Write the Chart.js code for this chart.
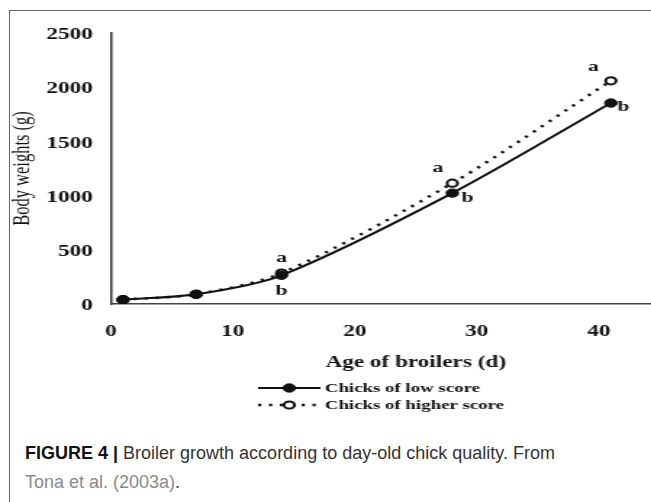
<!DOCTYPE html>
<html>
<head>
<meta charset="utf-8">
<script src="https://cdn.jsdelivr.net/npm/chart.js@4"></script>
<style>
  html, body { margin: 0; padding: 0; width: 651px; height: 502px; overflow: hidden; background: #fff; }
  #wrap { position: absolute; left: 0; top: 0; width: 651px; height: 502px; overflow: hidden; }
  #frame { position: absolute; left: 9px; top: 10px; width: 700px; height: 600px; border-left: 1px solid #666; border-top: 1px solid #666; }
  #c { position: absolute; left: 0; top: 0; transform: scaleX(1.45); transform-origin: 0 0; }
  #caption { position: absolute; left: 25px; top: 439px; font-family: 'Liberation Sans', Arial, sans-serif; font-size: 18px; line-height: 29px; color: #333; white-space: nowrap; }
  #caption b { color: #111; }
  #caption .ref { color: #8a8a8a; }
</style>
</head>
<body>
<div id="wrap">
  <div id="frame"></div>
  <canvas id="c" width="503" height="420"></canvas>
  <div id="caption"><b>FIGURE 4 |</b> Broiler growth according to day-old chick quality. From<br><span class="ref">Tona et al. (2003a)</span>.</div>
</div>
<script>
// ---- data ----
const days = [1, 7, 14, 28, 41];
const lowScore = [40, 90, 265, 1023, 1854];
const highScore = [40, 90, 285, 1115, 2059];
const lowLetters = ['', '', 'b', 'b', 'b'];
const highLetters = ['', '', 'a', 'a', 'a'];
const seriesNames = ['Chicks of low score', 'Chicks of higher score'];
const xTicks = [0, 10, 20, 30, 40];
const yTicks = [0, 500, 1000, 1500, 2000, 2500];
const xTitle = 'Age of broilers (d)';
const yTitle = 'Body weights (g)';

const serif = "'Liberation Serif', 'Times New Roman', serif";

const letterPlugin = {
  id: 'letters',
  afterDatasetsDraw(chart, args, opts) {
    const ctx = chart.ctx;
    ctx.save();
    ctx.font = 'bold 15px ' + serif;
    ctx.fillStyle = '#111';
    ctx.textAlign = 'center';
    ctx.textBaseline = 'middle';
    const sets = [
      { meta: chart.getDatasetMeta(0), letters: lowLetters, off: opts.lowOffsets },
      { meta: chart.getDatasetMeta(1), letters: highLetters, off: opts.highOffsets }
    ];
    sets.forEach(s => {
      s.meta.data.forEach((pt, i) => {
        const t = s.letters[i];
        if (!t) return;
        ctx.fillText(t, pt.x + s.off[i][0], pt.y + s.off[i][1]);
      });
    });
    ctx.restore();
  }
};

const legendPlugin = {
  id: 'customLegend',
  afterDraw(chart, args, opts) {
    const ctx = chart.ctx;
    ctx.save();
    chart.data.datasets.forEach((ds, i) => {
      const y = opts.rows[i];
      ctx.strokeStyle = ds.borderColor;
      ctx.lineWidth = ds.borderWidth;
      ctx.setLineDash(ds.borderDash || []);
      ctx.beginPath();
      ctx.moveTo(opts.x0, y);
      ctx.lineTo(opts.x1, y);
      ctx.stroke();
      ctx.setLineDash([]);
      ctx.beginPath();
      ctx.arc(opts.xm, y, ds.pointRadius, 0, Math.PI * 2);
      ctx.fillStyle = ds.pointBackgroundColor;
      ctx.fill();
      ctx.lineWidth = ds.pointBorderWidth;
      ctx.strokeStyle = ds.pointBorderColor;
      ctx.stroke();
      ctx.font = 'bold 13px ' + serif;
      ctx.fillStyle = '#111';
      ctx.textAlign = 'left';
      ctx.textBaseline = 'middle';
      ctx.fillText(ds.label, opts.xt, y + 1);
    });
    ctx.restore();
  }
};

new Chart(document.getElementById('c'), {
  type: 'line',
  data: {
    datasets: [
      {
        label: seriesNames[0],
        data: days.map((d, i) => ({ x: d, y: lowScore[i] })),
        borderColor: '#111',
        borderWidth: 2,
        pointRadius: 4.2,
        pointBackgroundColor: '#111',
        pointBorderColor: '#111',
        pointBorderWidth: 1,
        tension: 0.3,
        fill: false
      },
      {
        label: seriesNames[1],
        data: days.map((d, i) => ({ x: d, y: highScore[i] })),
        borderColor: '#111',
        borderWidth: 2.5,
        borderDash: [2.2, 5.3],
        pointRadius: 3.6,
        pointBackgroundColor: '#fff',
        pointBorderColor: '#111',
        pointBorderWidth: 2,
        tension: 0.3,
        fill: false
      }
    ]
  },
  options: {
    responsive: false,
    maintainAspectRatio: false,
    animation: false,
    devicePixelRatio: 1,
    layout: { padding: { top: 33, left: 0, right: 0, bottom: 0 } },
    plugins: {
      legend: { display: false },
      tooltip: { enabled: false },
      letters: {
        lowOffsets: [[0, 0], [0, 0], [0, 16], [10.6, 5], [8.6, 4]],
        highOffsets: [[0, 0], [0, 0], [0, -15], [-10, -15], [-12, -14]]
      },
      customLegend: { rows: [388, 405], x0: 178, x1: 221, xm: 199.5, xt: 224 }
    },
    scales: {
      x: {
        type: 'linear',
        min: 0,
        max: 50,
        afterBuildTicks: s => { s.ticks = xTicks.map(v => ({ value: v })); },
        afterFit: s => { s.height = 116; },
        grid: { display: false, drawTicks: false },
        border: { display: true, color: '#444', width: 1.5 },
        ticks: { color: '#111', font: { family: serif, size: 16, weight: 'bold' }, padding: 18, maxRotation: 0 },
        title: { display: true, text: xTitle, color: '#111', font: { family: serif, size: 16, weight: 'bold' }, padding: { top: 0, bottom: 48 } }
      },
      y: {
        type: 'linear',
        min: 0,
        max: 2500,
        afterBuildTicks: s => { s.ticks = yTicks.map(v => ({ value: v })); },
        afterFit: s => { s.width = 76.4; },
        grid: { display: false, drawTicks: false },
        border: { display: true, color: '#333', width: 1.5 },
        ticks: { color: '#111', font: { family: serif, size: 16, weight: 'bold' }, padding: 12.4, labelOffset: 2, callback: v => String(v) },
        title: { display: true, text: yTitle, color: '#111', font: { family: serif, size: 16.5, weight: 'normal' }, padding: { top: 5.7, bottom: 0 } }
      }
    }
  },
  plugins: [letterPlugin, legendPlugin]
});
</script>
</body>
</html>
